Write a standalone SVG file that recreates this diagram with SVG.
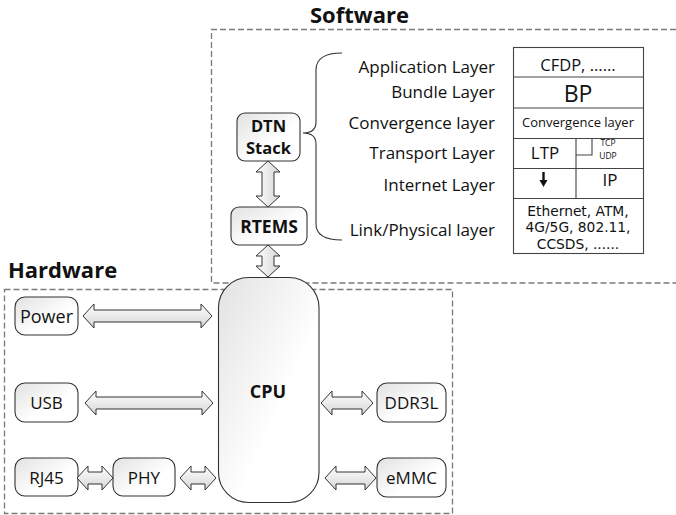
<svg xmlns="http://www.w3.org/2000/svg" width="676" height="515" viewBox="0 0 676 515">
  <defs>
    <linearGradient id="nodeFill" x1="0" y1="0" x2="1" y2="1">
      <stop offset="0" stop-color="#e2e2e2"/>
      <stop offset="0.6" stop-color="#ffffff"/>
    </linearGradient>
    <linearGradient id="arrowFillH" x1="0" y1="0" x2="0" y2="1">
      <stop offset="0" stop-color="#ffffff"/>
      <stop offset="1" stop-color="#d6d6d6"/>
    </linearGradient>
    <linearGradient id="arrowFillV" x1="0" y1="0" x2="1" y2="0">
      <stop offset="0" stop-color="#ffffff"/>
      <stop offset="1" stop-color="#d6d6d6"/>
    </linearGradient>
    <style>
      .frame { fill: none; stroke: #7a7a7a; stroke-width: 1.3; stroke-dasharray: 6 3; }
      .title { font-family: "Open Sans", "Liberation Sans", sans-serif; font-weight: bold; font-size: 22px; fill: #111; }
      .node { fill: url(#nodeFill); stroke: #333; stroke-width: 1.1; }
      .label { font-family: "Open Sans", "Liberation Sans", sans-serif; font-size: 17px; fill: #111; text-anchor: middle; }
      .bold { font-weight: bold; }
      .layer { font-family: "Open Sans", "Liberation Sans", sans-serif; font-size: 17px; fill: #111; text-anchor: end; }
      .cell { fill: #fff; stroke: #444; stroke-width: 1.1; }
      .rule { fill: none; stroke: #444; stroke-width: 1.1; }
      .harrow { fill: url(#arrowFillH); stroke: #333; stroke-width: 1; }
      .varrow { fill: url(#arrowFillV); stroke: #333; stroke-width: 1; }
      .brace { fill: none; stroke: #333; stroke-width: 1.1; }
      .link { font-family: "DejaVu Sans", "Liberation Sans", sans-serif; font-size: 13.8px; }
      .tiny { font-size: 8.5px; }
    </style>
  </defs>

  <!-- section frames and titles -->
  <g id="software-frame">
    <path class="frame" d="M676,29.5 H211.5 V283 H676"/>
    <text class="title" x="310" y="23">Software</text>
  </g>
  <g id="hardware-frame">
    <rect class="frame" x="4.5" y="289.5" width="448" height="224"/>
    <text class="title" x="8" y="278">Hardware</text>
  </g>

  <!-- protocol layer names with brace -->
  <g id="layers">
    <path class="brace" d="M342,53 Q316,53 316,70 L316,122 Q316,133 303,133 Q316,133 316,144 L316,224 Q316,240 342,240"/>
    <text class="layer" x="495" y="72.5">Application Layer</text>
    <text class="layer" x="495" y="97.5">Bundle Layer</text>
    <text class="layer" x="495" y="129">Convergence layer</text>
    <text class="layer" x="495" y="159">Transport Layer</text>
    <text class="layer" x="495" y="191">Internet Layer</text>
    <text class="layer" x="495" y="236">Link/Physical layer</text>
  </g>

  <!-- protocol table -->
  <g id="protocol-table">
    <rect class="cell" x="513.5" y="47.5" width="130" height="206"/>
    <path class="rule" d="M513.5,77 H643.5 M513.5,108 H643.5 M513.5,138.5 H643.5 M513.5,168.5 H643.5 M513.5,198.5 H643.5 M576,138.5 V198.5 M576,155 H592 V138.5"/>
    <text class="label" x="578" y="70.5" style="font-size:16.5px">CFDP, ......</text>
    <text class="label" x="578" y="101.5" style="font-size:23px">BP</text>
    <text class="label" x="578" y="127.3" style="font-size:13px">Convergence layer</text>
    <text class="label" x="545" y="159">LTP</text>
    <text class="label tiny" x="608" y="146">TCP</text>
    <text class="label tiny" x="608" y="158.5">UDP</text>
    <path d="M543.5,172 V181" stroke="#111" stroke-width="2.4"/>
    <path d="M539.5,180 H547.5 L543.5,187 Z" fill="#111"/>
    <text class="label" x="610" y="185.5">IP</text>
    <text class="label link" x="578" y="215.5">Ethernet, ATM,</text>
    <text class="label link" x="578" y="232">4G/5G, 802.11,</text>
    <text class="label link" x="578" y="248.5">CCSDS, ......</text>
  </g>

  <!-- nodes -->
  <g id="dtn-stack">
    <rect class="node" x="237" y="113" width="63" height="48" rx="8"/>
    <text class="label bold" x="268.5" y="132" style="font-size:16.5px">DTN</text>
    <text class="label bold" x="268.5" y="154" style="font-size:16.5px">Stack</text>
  </g>
  <g id="rtems">
    <rect class="node" x="231" y="207" width="76" height="38" rx="8"/>
    <text class="label bold" x="269" y="232.5" style="font-size:17.5px">RTEMS</text>
  </g>
  <g id="cpu">
    <rect class="node" x="218.5" y="277.5" width="100.5" height="225" rx="30"/>
    <text class="label bold" x="268" y="397.5" style="font-size:18px">CPU</text>
  </g>
  <g id="power">
    <rect class="node" x="15" y="297" width="63" height="38" rx="10"/>
    <text class="label" x="46.5" y="322.5" style="font-size:18px">Power</text>
  </g>
  <g id="usb">
    <rect class="node" x="15" y="383" width="63" height="39" rx="10"/>
    <text class="label" x="46.5" y="408.5">USB</text>
  </g>
  <g id="rj45">
    <rect class="node" x="15" y="458" width="63" height="38" rx="10"/>
    <text class="label" x="46.5" y="483.5">RJ45</text>
  </g>
  <g id="phy">
    <rect class="node" x="113" y="458" width="62" height="38" rx="10"/>
    <text class="label" x="144" y="483.5">PHY</text>
  </g>
  <g id="ddr3l">
    <rect class="node" x="377" y="383" width="69" height="39" rx="10"/>
    <text class="label" x="411.5" y="408.5">DDR3L</text>
  </g>
  <g id="emmc">
    <rect class="node" x="377" y="458" width="69" height="39" rx="10"/>
    <text class="label" x="411.5" y="483.5">eMMC</text>
  </g>

  <!-- connectors: hollow double arrows -->
  <g id="connectors">
    <path class="varrow" d="M268,161 L280,172 L274,172 L274,196 L280,196 L268,207 L256,196 L262,196 L262,172 L256,172 Z"/>
    <path class="varrow" d="M268,245 L280,256 L274,256 L274,266 L280,266 L268,277 L256,266 L262,266 L262,256 L256,256 Z"/>
    <path class="harrow" d="M83,316 L94,304 L94,310 L201,310 L201,304 L212,316 L201,328 L201,322 L94,322 L94,328 Z"/>
    <path class="harrow" d="M85,403 L96,391 L96,397 L202,397 L202,391 L213,403 L202,415 L202,409 L96,409 L96,415 Z"/>
    <path class="harrow" d="M77,478 L88,466 L88,472 L102,472 L102,466 L113,478 L102,490 L102,484 L88,484 L88,490 Z"/>
    <path class="harrow" d="M180,478 L191,466 L191,472 L205,472 L205,466 L216,478 L205,490 L205,484 L191,484 L191,490 Z"/>
    <path class="harrow" d="M321,403 L332,391 L332,397 L362,397 L362,391 L373,403 L362,415 L362,409 L332,409 L332,415 Z"/>
    <path class="harrow" d="M325,478 L336,466 L336,472 L365,472 L365,466 L376,478 L365,490 L365,484 L336,484 L336,490 Z"/>
  </g>
</svg>
